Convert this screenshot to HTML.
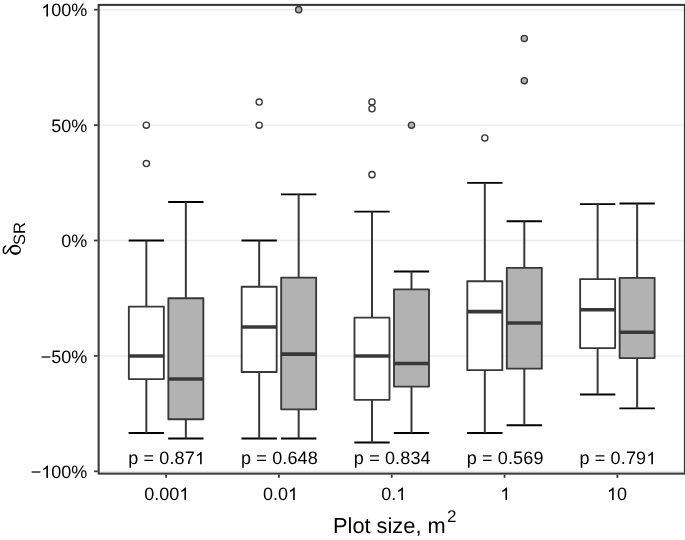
<!DOCTYPE html>
<html><head><meta charset="utf-8"><title>Boxplot</title>
<style>html,body{margin:0;padding:0;background:#fff;}svg{display:block;will-change:transform;filter:grayscale(1);}text{font-family:"Liberation Sans",sans-serif;fill:#000;text-rendering:geometricPrecision;}</style></head><body>
<svg width="685" height="540" viewBox="0 0 685 540">
<rect x="0" y="0" width="685" height="540" fill="#ffffff"/>
<g transform="translate(0,0.25)">
<line x1="98.65" x2="685" y1="9.45" y2="9.45" stroke="#ebebeb" stroke-width="1.35"/>
<line x1="98.65" x2="685" y1="124.85" y2="124.85" stroke="#ebebeb" stroke-width="1.35"/>
<line x1="98.65" x2="685" y1="240.25" y2="240.25" stroke="#ebebeb" stroke-width="1.35"/>
<line x1="98.65" x2="685" y1="355.65" y2="355.65" stroke="#ebebeb" stroke-width="1.35"/>
<line x1="98.65" x2="685" y1="471.05" y2="471.05" stroke="#ebebeb" stroke-width="1.35"/>
<g stroke="#000" stroke-width="1.9" fill="none"><line x1="128.65" x2="164.05" y1="240.25" y2="240.25"/><line x1="128.65" x2="164.05" y1="432.70" y2="432.70"/></g>
<line x1="146.35" x2="146.35" y1="240.25" y2="432.70" stroke="#383838" stroke-width="2.0"/>
<circle cx="146.35" cy="124.90" r="3.1" fill="#ffffff" stroke="#383838" stroke-width="1.35"/>
<circle cx="146.35" cy="163.30" r="3.1" fill="#ffffff" stroke="#383838" stroke-width="1.35"/>
<rect x="128.85" y="306.30" width="35.00" height="72.50" fill="#ffffff" stroke="#383838" stroke-width="1.85" stroke-linejoin="round"/>
<line x1="128.85" x2="163.85" y1="355.70" y2="355.70" stroke="#383838" stroke-width="3.6"/>
<g stroke="#000" stroke-width="1.9" fill="none"><line x1="168.15" x2="203.55" y1="201.80" y2="201.80"/><line x1="168.15" x2="203.55" y1="438.20" y2="438.20"/></g>
<line x1="185.85" x2="185.85" y1="201.80" y2="438.20" stroke="#383838" stroke-width="2.0"/>
<rect x="168.35" y="298.00" width="35.00" height="121.00" fill="#b2b2b2" stroke="#383838" stroke-width="1.85" stroke-linejoin="round"/>
<line x1="168.35" x2="203.35" y1="378.80" y2="378.80" stroke="#383838" stroke-width="3.6"/>
<text x="128.20" y="464.00" font-size="18" letter-spacing="0.15">p = 0.87</text><path transform="translate(194.96,464.00) scale(0.008789,-0.008481)" d="M763 0H583V1147Q518 1085 412.5 1023Q307 961 223 930V1104Q374 1175 487 1276Q600 1377 647 1472H763Z" fill="#000"/>
<g stroke="#000" stroke-width="1.9" fill="none"><line x1="241.47" x2="276.87" y1="240.20" y2="240.20"/><line x1="241.47" x2="276.87" y1="438.20" y2="438.20"/></g>
<line x1="259.17" x2="259.17" y1="240.20" y2="438.20" stroke="#383838" stroke-width="2.0"/>
<circle cx="259.17" cy="101.80" r="3.1" fill="#ffffff" stroke="#383838" stroke-width="1.35"/>
<circle cx="259.17" cy="124.90" r="3.1" fill="#ffffff" stroke="#383838" stroke-width="1.35"/>
<rect x="241.67" y="286.50" width="35.00" height="85.20" fill="#ffffff" stroke="#383838" stroke-width="1.85" stroke-linejoin="round"/>
<line x1="241.67" x2="276.67" y1="326.80" y2="326.80" stroke="#383838" stroke-width="3.6"/>
<g stroke="#000" stroke-width="1.9" fill="none"><line x1="280.97" x2="316.37" y1="194.10" y2="194.10"/><line x1="280.97" x2="316.37" y1="438.20" y2="438.20"/></g>
<line x1="298.67" x2="298.67" y1="194.10" y2="438.20" stroke="#383838" stroke-width="2.0"/>
<circle cx="298.67" cy="9.40" r="3.1" fill="#b2b2b2" stroke="#383838" stroke-width="1.35"/>
<rect x="281.17" y="277.40" width="35.00" height="131.70" fill="#b2b2b2" stroke="#383838" stroke-width="1.85" stroke-linejoin="round"/>
<line x1="281.17" x2="316.17" y1="353.90" y2="353.90" stroke="#383838" stroke-width="3.6"/>
<text x="241.02" y="464.00" font-size="18" letter-spacing="0.15">p = 0.648</text>
<g stroke="#000" stroke-width="1.9" fill="none"><line x1="354.29" x2="389.69" y1="211.40" y2="211.40"/><line x1="354.29" x2="389.69" y1="442.30" y2="442.30"/></g>
<line x1="371.99" x2="371.99" y1="211.40" y2="442.30" stroke="#383838" stroke-width="2.0"/>
<circle cx="371.99" cy="101.70" r="3.1" fill="#ffffff" stroke="#383838" stroke-width="1.35"/>
<circle cx="371.99" cy="108.50" r="3.1" fill="#ffffff" stroke="#383838" stroke-width="1.35"/>
<circle cx="371.99" cy="174.40" r="3.1" fill="#ffffff" stroke="#383838" stroke-width="1.35"/>
<rect x="354.49" y="317.30" width="35.00" height="82.30" fill="#ffffff" stroke="#383838" stroke-width="1.85" stroke-linejoin="round"/>
<line x1="354.49" x2="389.49" y1="355.70" y2="355.70" stroke="#383838" stroke-width="3.6"/>
<g stroke="#000" stroke-width="1.9" fill="none"><line x1="393.79" x2="429.19" y1="271.20" y2="271.20"/><line x1="393.79" x2="429.19" y1="432.70" y2="432.70"/></g>
<line x1="411.49" x2="411.49" y1="271.20" y2="432.70" stroke="#383838" stroke-width="2.0"/>
<circle cx="411.49" cy="124.90" r="3.1" fill="#b2b2b2" stroke="#383838" stroke-width="1.35"/>
<rect x="393.99" y="289.10" width="35.00" height="97.20" fill="#b2b2b2" stroke="#383838" stroke-width="1.85" stroke-linejoin="round"/>
<line x1="393.99" x2="428.99" y1="363.30" y2="363.30" stroke="#383838" stroke-width="3.6"/>
<text x="353.84" y="464.00" font-size="18" letter-spacing="0.15">p = 0.834</text>
<g stroke="#000" stroke-width="1.9" fill="none"><line x1="467.11" x2="502.51" y1="182.60" y2="182.60"/><line x1="467.11" x2="502.51" y1="432.70" y2="432.70"/></g>
<line x1="484.81" x2="484.81" y1="182.60" y2="432.70" stroke="#383838" stroke-width="2.0"/>
<circle cx="484.81" cy="137.70" r="3.1" fill="#ffffff" stroke="#383838" stroke-width="1.35"/>
<rect x="467.31" y="281.00" width="35.00" height="88.90" fill="#ffffff" stroke="#383838" stroke-width="1.85" stroke-linejoin="round"/>
<line x1="467.31" x2="502.31" y1="311.40" y2="311.40" stroke="#383838" stroke-width="3.6"/>
<g stroke="#000" stroke-width="1.9" fill="none"><line x1="506.61" x2="542.01" y1="221.00" y2="221.00"/><line x1="506.61" x2="542.01" y1="425.00" y2="425.00"/></g>
<line x1="524.31" x2="524.31" y1="221.00" y2="425.00" stroke="#383838" stroke-width="2.0"/>
<circle cx="524.31" cy="38.20" r="3.1" fill="#b2b2b2" stroke="#383838" stroke-width="1.35"/>
<circle cx="524.31" cy="80.40" r="3.1" fill="#b2b2b2" stroke="#383838" stroke-width="1.35"/>
<rect x="506.81" y="267.60" width="35.00" height="100.80" fill="#b2b2b2" stroke="#383838" stroke-width="1.85" stroke-linejoin="round"/>
<line x1="506.81" x2="541.81" y1="322.80" y2="322.80" stroke="#383838" stroke-width="3.6"/>
<text x="466.66" y="464.00" font-size="18" letter-spacing="0.15">p = 0.569</text>
<g stroke="#000" stroke-width="1.9" fill="none"><line x1="579.93" x2="615.33" y1="203.85" y2="203.85"/><line x1="579.93" x2="615.33" y1="394.20" y2="394.20"/></g>
<line x1="597.63" x2="597.63" y1="203.85" y2="394.20" stroke="#383838" stroke-width="2.0"/>
<rect x="580.13" y="278.80" width="35.00" height="69.00" fill="#ffffff" stroke="#383838" stroke-width="1.85" stroke-linejoin="round"/>
<line x1="580.13" x2="615.13" y1="309.50" y2="309.50" stroke="#383838" stroke-width="3.6"/>
<g stroke="#000" stroke-width="1.9" fill="none"><line x1="619.43" x2="654.83" y1="203.30" y2="203.30"/><line x1="619.43" x2="654.83" y1="408.15" y2="408.15"/></g>
<line x1="637.13" x2="637.13" y1="203.30" y2="408.15" stroke="#383838" stroke-width="2.0"/>
<rect x="619.63" y="277.60" width="35.00" height="80.25" fill="#b2b2b2" stroke="#383838" stroke-width="1.85" stroke-linejoin="round"/>
<line x1="619.63" x2="654.63" y1="332.00" y2="332.00" stroke="#383838" stroke-width="3.6"/>
<text x="579.48" y="464.00" font-size="18" letter-spacing="0.15">p = 0.79</text><path transform="translate(646.24,464.00) scale(0.008789,-0.008481)" d="M763 0H583V1147Q518 1085 412.5 1023Q307 961 223 930V1104Q374 1175 487 1276Q600 1377 647 1472H763Z" fill="#000"/>
</g>
<rect x="98.65" y="4.9" width="586.25" height="468.70" fill="none" stroke="#383838" stroke-width="2.05"/>
<g transform="translate(0,0.25)">
<line x1="94.1" x2="97.65" y1="9.45" y2="9.45" stroke="#383838" stroke-width="1.8"/>
<path transform="translate(41.26,16.15) scale(0.008789,-0.008481)" d="M763 0H583V1147Q518 1085 412.5 1023Q307 961 223 930V1104Q374 1175 487 1276Q600 1377 647 1472H763Z" fill="#000"/><text x="51.27" y="16.15" font-size="18">00%</text>
<line x1="94.1" x2="97.65" y1="124.85" y2="124.85" stroke="#383838" stroke-width="1.8"/>
<text x="51.27" y="131.55" font-size="18">50%</text>
<line x1="94.1" x2="97.65" y1="240.25" y2="240.25" stroke="#383838" stroke-width="1.8"/>
<text x="61.28" y="246.95" font-size="18">0%</text>
<line x1="94.1" x2="97.65" y1="355.65" y2="355.65" stroke="#383838" stroke-width="1.8"/>
<text x="40.76" y="362.35" font-size="18">−50%</text>
<line x1="94.1" x2="97.65" y1="471.05" y2="471.05" stroke="#383838" stroke-width="1.8"/>
<text x="30.75" y="477.75" font-size="18">−</text><path transform="translate(41.26,477.75) scale(0.008789,-0.008481)" d="M763 0H583V1147Q518 1085 412.5 1023Q307 961 223 930V1104Q374 1175 487 1276Q600 1377 647 1472H763Z" fill="#000"/><text x="51.27" y="477.75" font-size="18">00%</text>
</g>
<line x1="166.10" x2="166.10" y1="474.60" y2="477.8" stroke="#383838" stroke-width="1.8"/>
<text x="144.28" y="499.90" font-size="18">0.00</text><path transform="translate(179.31,499.90) scale(0.008789,-0.008481)" d="M763 0H583V1147Q518 1085 412.5 1023Q307 961 223 930V1104Q374 1175 487 1276Q600 1377 647 1472H763Z" fill="#000"/>
<line x1="278.92" x2="278.92" y1="474.60" y2="477.8" stroke="#383838" stroke-width="1.8"/>
<text x="263.00" y="499.90" font-size="18">0.0</text><path transform="translate(288.03,499.90) scale(0.008789,-0.008481)" d="M763 0H583V1147Q518 1085 412.5 1023Q307 961 223 930V1104Q374 1175 487 1276Q600 1377 647 1472H763Z" fill="#000"/>
<line x1="391.74" x2="391.74" y1="474.60" y2="477.8" stroke="#383838" stroke-width="1.8"/>
<text x="381.23" y="499.90" font-size="18">0.</text><path transform="translate(396.24,499.90) scale(0.008789,-0.008481)" d="M763 0H583V1147Q518 1085 412.5 1023Q307 961 223 930V1104Q374 1175 487 1276Q600 1377 647 1472H763Z" fill="#000"/>
<line x1="504.56" x2="504.56" y1="474.60" y2="477.8" stroke="#383838" stroke-width="1.8"/>
<path transform="translate(500.35,499.90) scale(0.008789,-0.008481)" d="M763 0H583V1147Q518 1085 412.5 1023Q307 961 223 930V1104Q374 1175 487 1276Q600 1377 647 1472H763Z" fill="#000"/>
<line x1="617.38" x2="617.38" y1="474.60" y2="477.8" stroke="#383838" stroke-width="1.8"/>
<path transform="translate(606.97,499.90) scale(0.008789,-0.008481)" d="M763 0H583V1147Q518 1085 412.5 1023Q307 961 223 930V1104Q374 1175 487 1276Q600 1377 647 1472H763Z" fill="#000"/><text x="616.98" y="499.90" font-size="18">0</text>
<text x="333.0" y="532.6" font-size="21.8">Plot size, m</text>
<text x="447.05" y="521.9" font-size="17">2</text>
<path d="M15.45 245.1 A5.45 4.9 0 1 0 15.45 254.9 A5.45 4.9 0 1 0 15.45 245.1 Z M15.45 246.7 A4.35 2.85 0 1 1 15.45 252.4 A4.35 2.85 0 1 1 15.45 246.7 Z" fill="#000" fill-rule="evenodd"/>
<path d="M5.7 246.1 C4.3 246.6 3.3 248.5 3.3 250.5 C3.3 252.6 4.4 253.7 5.5 253.5 C7.0 253.2 8.2 250.8 9.6 248.6 C10.8 246.7 12.5 245.6 15 245.5" fill="none" stroke="#000" stroke-width="1.45" stroke-linecap="round"/>
<g transform="translate(24.8,245.1) rotate(-90)"><text x="0" y="0" font-size="16.5">SR</text></g>
</svg></body></html>
